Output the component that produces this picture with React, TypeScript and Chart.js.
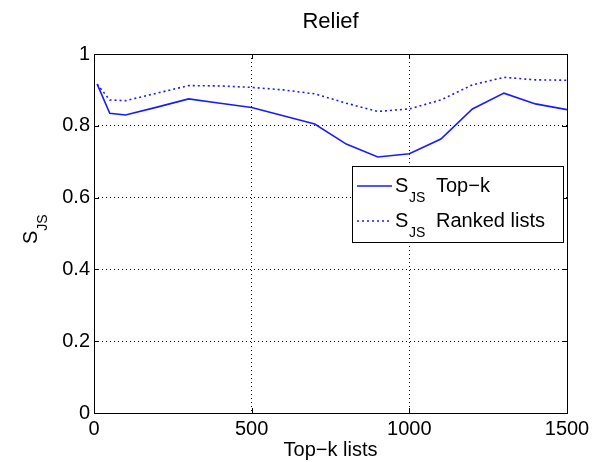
import React, { useEffect, useRef } from "react";
import { Chart, registerables } from "chart.js";

Chart.register(...registerables);

const xValues = [10, 50, 100, 200, 300, 400, 500, 600, 700, 800, 900, 1000, 1100, 1200, 1300, 1400, 1500];
const topK = [0.916, 0.835, 0.830, 0.852, 0.875, 0.863, 0.851, 0.828, 0.805, 0.749, 0.713, 0.722, 0.763, 0.847, 0.891, 0.861, 0.845];
const ranked = [0.916, 0.872, 0.870, 0.891, 0.912, 0.911, 0.907, 0.900, 0.889, 0.863, 0.840, 0.847, 0.872, 0.914, 0.935, 0.928, 0.927];
const xTicks = [0, 500, 1000, 1500];
const yTicks = [0, 0.2, 0.4, 0.6, 0.8, 1];
const titleText = "Relief";
const xTitle = "Top\u2212k lists";
const legendLabels = ["Top\u2212k", "Ranked lists"];

const FONT = '"Liberation Sans", Arial, sans-serif';
const BLUE = "#1a1aff";

const decorPlugin = {
  id: "decor",
  afterDraw(chart: any) {
    const ctx = chart.ctx;
    const a = chart.chartArea;
    const xs = chart.scales.x;
    const ys = chart.scales.y;
    ctx.save();
    // frame
    ctx.strokeStyle = "#000";
    ctx.lineWidth = 1;
    ctx.setLineDash([]);
    ctx.strokeRect(Math.round(a.left) + 0.5, Math.round(a.top) + 0.5, Math.round(a.right - a.left), Math.round(a.bottom - a.top));
    // inward ticks
    ctx.beginPath();
    xTicks.forEach((v) => {
      const px = Math.round(xs.getPixelForValue(v)) + 0.5;
      ctx.moveTo(px, a.bottom);
      ctx.lineTo(px, a.bottom - 5);
      ctx.moveTo(px, a.top);
      ctx.lineTo(px, a.top + 5);
    });
    yTicks.forEach((v) => {
      const py = Math.round(ys.getPixelForValue(v)) + 0.5;
      ctx.moveTo(a.left, py);
      ctx.lineTo(a.left + 5, py);
      ctx.moveTo(a.right, py);
      ctx.lineTo(a.right - 5, py);
    });
    ctx.stroke();

    // title
    ctx.fillStyle = "#000";
    ctx.font = `22px ${FONT}`;
    ctx.textAlign = "center";
    ctx.textBaseline = "alphabetic";
    ctx.fillText(titleText, (a.left + a.right) / 2, 28);

    // x title
    ctx.font = `20px ${FONT}`;
    ctx.fillText(xTitle, (a.left + a.right) / 2, 456);

    // y title S_JS rotated
    ctx.save();
    ctx.translate(37, 244);
    ctx.rotate(-Math.PI / 2);
    ctx.textAlign = "left";
    ctx.font = `20px ${FONT}`;
    ctx.fillText("S", 0, 0);
    const sw = ctx.measureText("S").width;
    ctx.font = `14px ${FONT}`;
    ctx.fillText("JS", sw, 10);
    ctx.restore();

    // legend
    const lx = 352, ly = 166, lw = 211, lh = 76;
    ctx.fillStyle = "#fff";
    ctx.fillRect(lx, ly, lw, lh);
    ctx.strokeStyle = "#000";
    ctx.lineWidth = 1;
    ctx.strokeRect(lx + 0.5, ly + 0.5, lw, lh);
    const rows = [186, 221];
    rows.forEach((ry, i) => {
      ctx.strokeStyle = BLUE;
      ctx.lineWidth = 1.6;
      ctx.setLineDash(i === 0 ? [] : [2, 3]);
      ctx.beginPath();
      ctx.moveTo(357, ry);
      ctx.lineTo(392, ry);
      ctx.stroke();
      ctx.setLineDash([]);
      ctx.fillStyle = "#000";
      ctx.textAlign = "left";
      ctx.font = `20px ${FONT}`;
      ctx.fillText("S", 395, ry + 6);
      ctx.font = `14px ${FONT}`;
      ctx.fillText("JS", 409, ry + 16);
      ctx.font = `20px ${FONT}`;
      ctx.fillText(legendLabels[i], 436, ry + 6);
    });
    ctx.restore();
  },
};

export default function App() {
  const ref = useRef<HTMLCanvasElement | null>(null);
  useEffect(() => {
    if (!ref.current) return;
    const chart = new Chart(ref.current, {
      type: "line",
      data: {
        datasets: [
          {
            label: "S_JS Top-k",
            data: xValues.map((x, i) => ({ x, y: topK[i] })),
            borderColor: BLUE,
            borderWidth: 1.6,
            pointRadius: 0,
            tension: 0,
            fill: false,
          },
          {
            label: "S_JS Ranked lists",
            data: xValues.map((x, i) => ({ x, y: ranked[i] })),
            borderColor: BLUE,
            borderWidth: 1.6,
            borderDash: [2, 3],
            pointRadius: 0,
            tension: 0,
            fill: false,
          },
        ],
      },
      options: {
        responsive: false,
        animation: false,
        layout: { padding: { left: 0, top: 54, right: 38, bottom: 0 } },
        plugins: { legend: { display: false }, tooltip: { enabled: false }, title: { display: false } },
        scales: {
          x: {
            type: "linear",
            min: 0,
            max: 1500,
            afterBuildTicks: (s: any) => {
              s.ticks = xTicks.map((v) => ({ value: v }));
            },
            afterFit: (s: any) => {
              s.height = 49;
            },
            ticks: {
              color: "#000",
              font: { family: FONT, size: 20 },
              padding: 4,
              maxRotation: 0,
              autoSkip: false,
              callback: (v: any) => String(v),
            },
            grid: { color: "#000", lineWidth: 1, drawTicks: false },
            border: { display: false, dash: [1, 3] },
          },
          y: {
            min: 0,
            max: 1,
            afterBuildTicks: (s: any) => {
              s.ticks = yTicks.map((v) => ({ value: v }));
            },
            afterFit: (s: any) => {
              s.width = 94;
            },
            ticks: {
              color: "#000",
              font: { family: FONT, size: 20 },
              padding: 4,
              callback: (v: any) => String(Math.round(Number(v) * 10) / 10),
            },
            grid: { color: "#000", lineWidth: 1, drawTicks: false },
            border: { display: false, dash: [1, 3] },
          },
        },
      },
      plugins: [decorPlugin],
    });
    return () => chart.destroy();
  }, []);
  return (
    <div style={{ position: "absolute", left: 0, top: 0, width: 605, height: 462, background: "#fff" }}>
      <canvas ref={ref} width={605} height={462} />
    </div>
  );
}
